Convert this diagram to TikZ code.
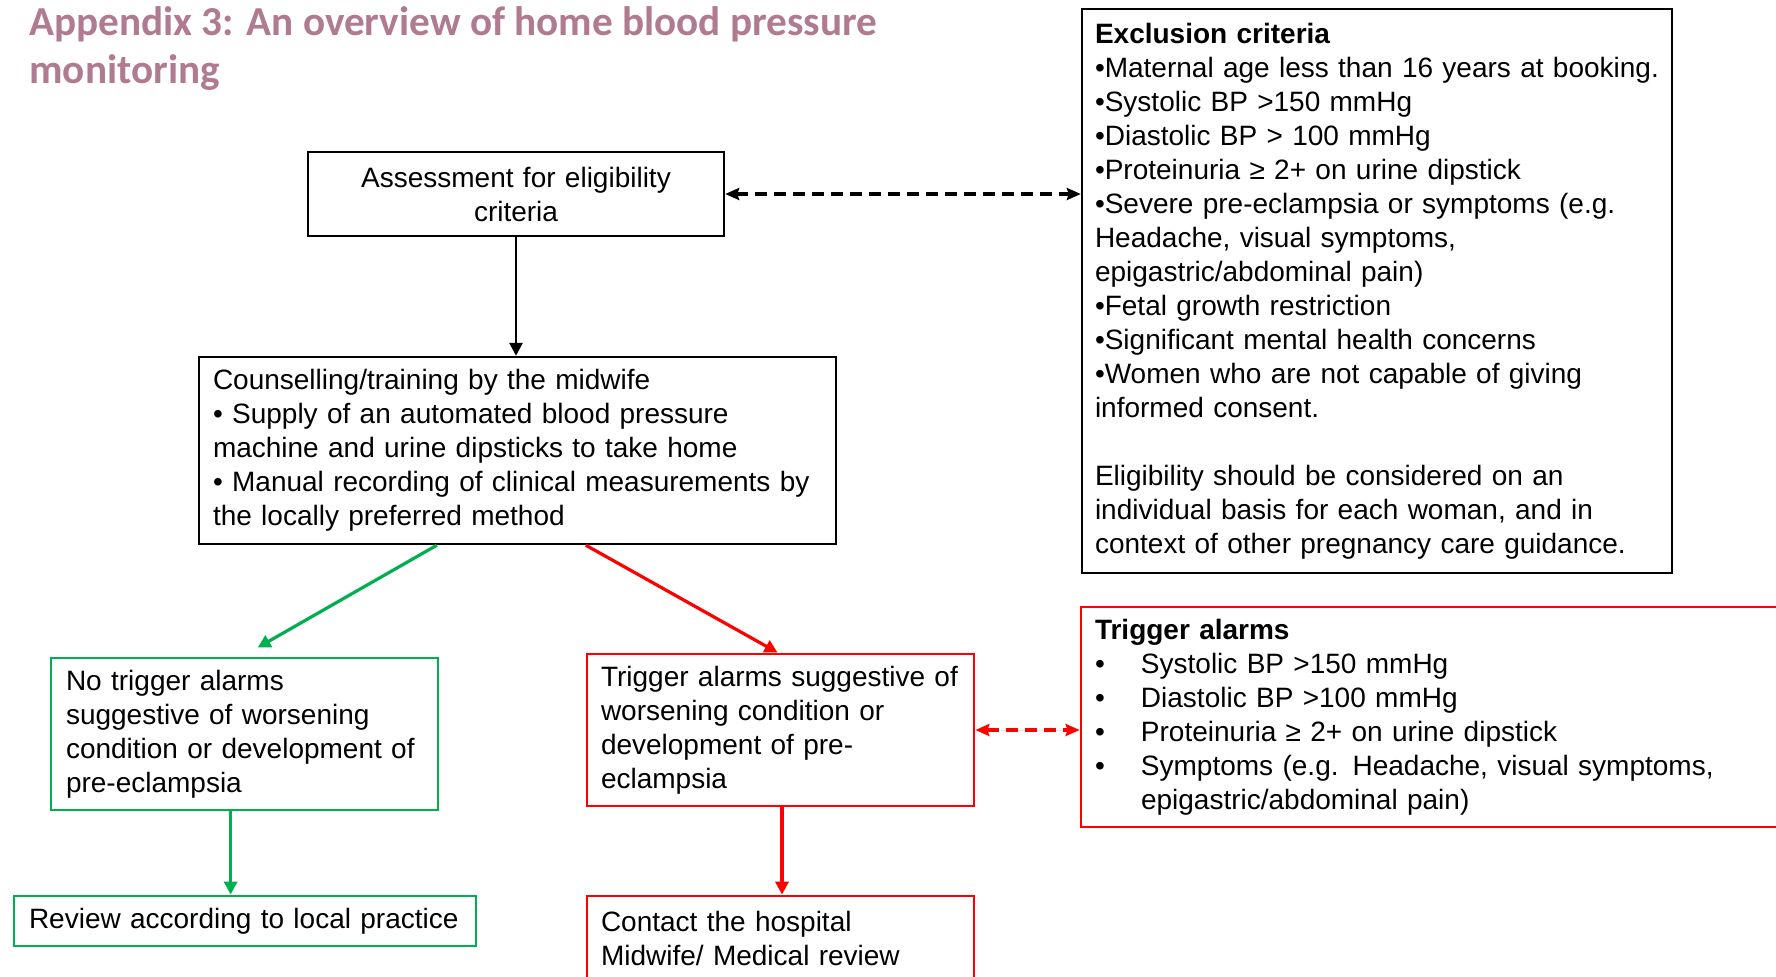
\documentclass[tikz,border=0pt]{standalone}
\usepackage{fontspec}
\setmainfont{Liberation Sans}
\newfontfamily\titlefont{Carlito}
\usetikzlibrary{arrows.meta,calc}
\definecolor{titlemauve}{RGB}{176,122,144}
\definecolor{boxgreen}{RGB}{0,176,80}
\definecolor{boxred}{RGB}{255,0,0}
\begin{document}
\hyphenpenalty=10000
\exhyphenpenalty=10000
\begin{tikzpicture}[x=0.5pt,y=-0.5pt,
  every node/.style={font=\fontsize{14}{17}\selectfont, inner ysep=0pt},
  box/.style={draw, line width=1.2pt, inner xsep=7pt, align=left},
  gbox/.style={box, draw=boxgreen, line width=1.4pt},
  rbox/.style={box, draw=boxred, line width=1.4pt},
  tip/.style={-{Triangle[length=6.5pt,width=6.5pt]}},
  blackarrow/.style={tip, line width=1.4pt},
  greenarrow/.style={tip, draw=boxgreen, fill=boxgreen, line width=1.6pt},
  redarrow/.style={tip, draw=boxred, fill=boxred, line width=1.6pt},
  dashtip/.style={{Stealth[length=7pt,width=6pt,inset=1pt]}-{Stealth[length=7pt,width=6pt,inset=1pt]}, line width=1.7pt, dash pattern=on 6pt off 3.5pt}
]
\useasboundingbox (0,0) rectangle (1776,976);
\clip (0,0) rectangle (1776,976);

% title
\node[anchor=base west, align=left, inner sep=0pt, text=titlemauve,
  font=\titlefont\bfseries\fontsize{20.6}{24}\selectfont] (title) at (29,83)
  {Appendix 3: An overview of home blood pressure\\monitoring};

% boxes
\node[box, align=center, text width=194pt, minimum height=42pt] (assess) at (516,194)
  {Assessment for eligibility\\criteria};

\node[box, text width=304.5pt, minimum height=93.5pt] (couns) at (517.5,450.5)
  {Counselling/training by the midwife\\
   \textbullet{} Supply of an automated blood pressure\\
   machine and urine dipsticks to take home\\
   \textbullet{} Manual recording of clinical measurements by\\
   the locally preferred method};

\node[box, inner xsep=6.5pt, text width=282pt, minimum height=282pt] (excl) at (1377,291)
  {\textbf{Exclusion criteria}\\
   \textbullet Maternal age less than 16 years at booking.\\
   \textbullet Systolic BP >150 mmHg\\
   \textbullet Diastolic BP > 100 mmHg\\
   \textbullet Proteinuria ≥ 2+ on urine dipstick\\
   \textbullet Severe pre-eclampsia or symptoms (e.g.\\
   Headache, visual symptoms,\\
   epigastric/abdominal pain)\\
   \textbullet Fetal growth restriction\\
   \textbullet Significant mental health concerns\\
   \textbullet Women who are not capable of giving\\
   informed consent.\\[17pt]
   Eligibility should be considered on an\\
   individual basis for each woman, and in\\
   context of other pregnancy care guidance.};

\node[gbox, inner xsep=7.5pt, text width=178.5pt, minimum height=76pt] (nog) at (244.5,734)
  {No trigger alarms\\
   suggestive of worsening\\
   condition or development of\\
   pre-eclampsia};

\node[rbox, inner xsep=7pt, text width=179.5pt, minimum height=76pt] (trig) at (780.5,730)
  {Trigger alarms suggestive of\\
   worsening condition or\\
   development of pre-\\
   eclampsia};

\node[rbox, inner xsep=7pt, text width=345.5pt, minimum height=110pt] (alarms) at (1440.5,717)
  {\textbf{Trigger alarms}\\
   \makebox[23pt][l]{\textbullet}Systolic BP >150 mmHg\\
   \makebox[23pt][l]{\textbullet}Diastolic BP >100 mmHg\\
   \makebox[23pt][l]{\textbullet}Proteinuria ≥ 2+ on urine dipstick\\
   \makebox[23pt][l]{\textbullet}Symptoms (e.g. Headache, visual symptoms,\\
   \hspace*{23pt}epigastric/abdominal pain)};

\node[gbox, inner xsep=7.5pt, text width=216pt, minimum height=25pt] (review) at (245,921)
  {Review according to local practice};

\node[rbox, inner xsep=7pt, text width=179.5pt, minimum height=42pt] (contact) at (780.5,938)
  {Contact the hospital\\
   Midwife/ Medical review};

% connectors
\draw[blackarrow] (assess.south) -- (assess.south |- couns.north);
\draw[dashtip] (assess.east) -- (assess.east -| excl.west);
\draw[greenarrow] ([xshift=119.5pt]couns.south west) -- ([xshift=104pt,yshift=4.5pt]nog.north west);
\draw[redarrow] ([xshift=194pt]couns.south west) -- ([xshift=96pt]trig.north west);
\draw[greenarrow] ([xshift=90.5pt]nog.south west) -- ([xshift=90.5pt]nog.south west |- review.north);
\draw[redarrow] ([xshift=0.75pt]trig.south) -- ([xshift=0.75pt]trig.south |- contact.north);
\draw[dashtip, draw=boxred, fill=boxred] (trig.east) -- (trig.east -| alarms.west);
\end{tikzpicture}
\end{document}
